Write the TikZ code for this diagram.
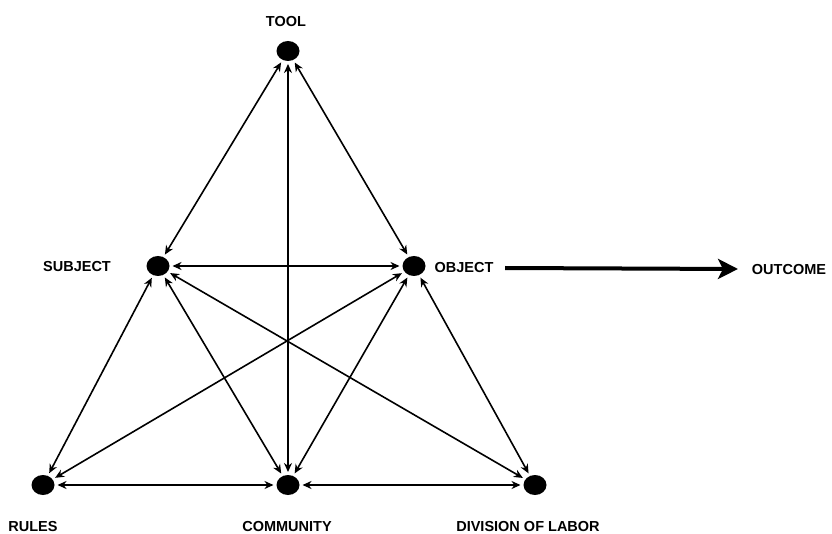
\documentclass[tikz,border=0pt]{standalone}
\usepackage{fontspec}
\setmainfont{Liberation Sans}
\usetikzlibrary{arrows.meta,shapes.geometric}
\begin{document}
\begin{tikzpicture}[x=1pt,y=-1pt,
  dot/.style={ellipse,fill=black,minimum width=23pt,minimum height=20pt,inner sep=0pt,outer sep=3pt},
  lbl/.style={font=\bfseries\fontsize{14.5}{15}\selectfont,inner sep=0pt},
  link/.style={line width=1.6pt,{Stealth[length=9pt,width=8pt]}-{Stealth[length=9pt,width=8pt]}},
  big/.style={line width=4pt,-{Stealth[length=20pt,width=20pt,inset=5pt]}}]
\useasboundingbox (0,0) rectangle (832,534);
\node[dot] (tool) at (288,51) {};
\node[dot] (subj) at (158,266) {};
\node[dot] (obj) at (414,266) {};
\node[dot] (rules) at (43,485) {};
\node[dot] (comm) at (288,485) {};
\node[dot] (div) at (535,485) {};
\node[lbl] (ltool) at (286,22) {TOOL};
\node[lbl] (lsubj) at (77,267) {SUBJECT};
\node[lbl] (lobj) at (464,268) {OBJECT};
\node[lbl] (lout) at (789,270) {OUTCOME};
\node[lbl] (lrules) at (33,527) {RULES};
\node[lbl] (lcomm) at (287,527) {COMMUNITY};
\node[lbl] (ldiv) at (528,527) {DIVISION OF LABOR};
\draw[link] (tool) -- (subj);
\draw[link] (tool) -- (obj);
\draw[link] (tool) -- (comm);
\draw[link] (subj) -- (obj);
\draw[link] (subj) -- (rules);
\draw[link] (subj) -- (comm);
\draw[link] (subj) -- (div);
\draw[link] (obj) -- (rules);
\draw[link] (obj) -- (comm);
\draw[link] (obj) -- (div);
\draw[link] (rules) -- (comm);
\draw[link] (comm) -- (div);
\coordinate (bs) at (505,268);
\coordinate (be) at (738,269);
\draw[big] (bs) -- (be);
\end{tikzpicture}
\end{document}
